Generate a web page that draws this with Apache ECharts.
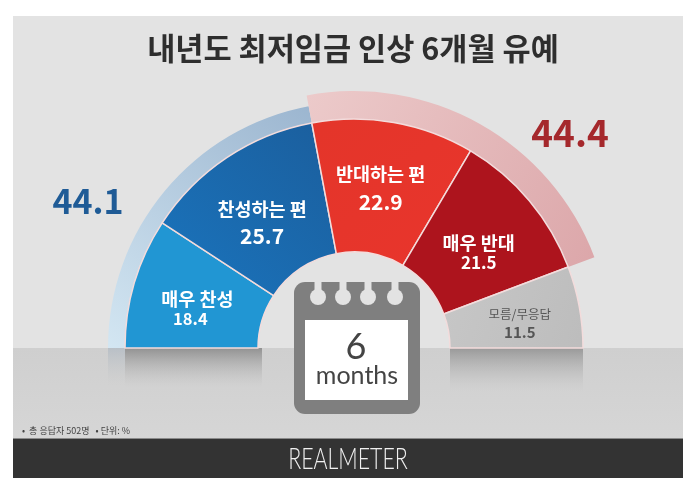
<!DOCTYPE html>
<html>
<head>
<meta charset="utf-8">
<title>내년도 최저임금 인상 6개월 유예</title>
<script src="https://cdn.jsdelivr.net/npm/echarts@6/dist/echarts.min.js"></script>
<style>
html,body{margin:0;padding:0;background:#fff}
#main{width:700px;height:493px}
</style>
</head>
<body>
<div id="main"></div>
<script>
var titleText = '내년도 최저임금 인상 6개월 유예';
var categories = ['매우 찬성', '찬성하는 편', '반대하는 편', '매우 반대', '모름/무응답'];
var values = [18.4, 25.7, 22.9, 21.5, 11.5];
var groupNames = ['찬성', '반대', '모름'];
var groupValues = [44.1, 44.4, 11.5];
var footnote = '•  총 응답자 502명   • 단위: %';

var FONT = '"Noto Sans CJK KR","Noto Sans",sans-serif';
var cx = 354, cy = 348;

function grad(x, y, x2, y2, c1, c2) {
	return { type: 'linear', global: true, x: x, y: y, x2: x2, y2: y2,
		colorStops: [{ offset: 0, color: c1 }, { offset: 1, color: c2 }] };
}

// 조각 색, 글자 크기
var sliceColors = [
	'#2196d3',
	grad(170, 300, 330, 130, '#1a74bd', '#1b5f9e'),
	grad(330, 120, 450, 250, '#e4352a', '#e8352c'),
	'#ad141d',
	grad(450, 300, 580, 340, '#c6c6c6', '#bdbdbd')
];
var nameSizes = [18.5, 18.5, 18.5, 18.5, 12.5];
var valueSizes = [16.5, 21, 21, 17, 15];
var lineHeights = [20, 27, 28, 20, 19];
var labelDx = [2, 0, -2, -2, 3];
var labelDy = [8, 12, 3, 11, 5];
var valuePadRight = [14, 0, 0, 0, 0];
var textColors = ['#fff', '#fff', '#fff', '#fff', '#555'];
var ringColors = [
	grad(108, 348, 300, 100, '#d3e6f2', '#9cb6d0'),
	grad(310, 92, 600, 250, '#eccaca', '#dca7aa'),
	'transparent'
];
var ringOuter = [246, 257];

var pieData = categories.map(function (name, i) {
	return {
		name: name,
		value: values[i],
		itemStyle: { color: sliceColors[i] },
		label: {
			rich: {
				n: { fontSize: nameSizes[i], fontWeight: i == 4 ? 'normal' : 'bold', color: textColors[i], fontFamily: FONT, lineHeight: lineHeights[i] },
				v: { fontSize: valueSizes[i], fontWeight: 'bold', color: textColors[i], fontFamily: FONT, lineHeight: lineHeights[i], padding: [0, valuePadRight[i], 0, 0] }
			}
		}
	};
});

function ringSeries(idx) {
	return {
		type: 'pie', silent: true, z: 1,
		center: [cx, cy],
		radius: [229, ringOuter[idx]],
		startAngle: 180, endAngle: 0,
		label: { show: false }, labelLine: { show: false },
		data: groupNames.map(function (n, i) {
			return { name: n, value: groupValues[i], itemStyle: { color: i == idx ? ringColors[i] : 'transparent' } };
		})
	};
}

var graphics = [
	// 배경
	{ type: 'rect', z: -10, shape: { x: 13, y: 16, width: 670, height: 332 }, style: { fill: '#e3e3e3' } },
	{ type: 'rect', z: -10, shape: { x: 13, y: 348, width: 670, height: 91 }, style: { fill: grad(0, 348, 0, 439, '#cfcfcf', '#d6d6d6') } },
	{ type: 'rect', z: -10, shape: { x: 13, y: 439, width: 670, height: 39 }, style: { fill: '#333333' } },
	{ type: 'rect', z: -9, shape: { x: 13, y: 438, width: 670, height: 1 }, style: { fill: '#8a8a8a' } },
	// 그림자
	{ type: 'rect', z: -8, shape: { x: 108, y: 348, width: 17, height: 38 }, style: { fill: grad(0, 348, 0, 386, 'rgba(175,185,195,0.7)', 'rgba(200,200,200,0)') } },
	{ type: 'rect', z: -8, shape: { x: 125, y: 348, width: 137, height: 40 }, style: { fill: grad(0, 348, 0, 388, 'rgba(125,125,125,0.75)', 'rgba(190,190,190,0)') } },
	{ type: 'rect', z: -8, shape: { x: 450, y: 348, width: 133, height: 44 }, style: { fill: grad(0, 348, 0, 392, 'rgba(130,130,130,0.7)', 'rgba(190,190,190,0)') } },
	// 달력
	{ type: 'rect', z: 5, shape: { x: 294, y: 282, width: 126, height: 132, r: 11 }, style: { fill: '#7f7f7f' } },
	{ type: 'rect', z: 6, shape: { x: 305, y: 320, width: 103, height: 80 }, style: { fill: '#ffffff' } },
	{ type: 'text', z: 7, x: 356, y: 347, style: { text: '6', font: '400 36px Lato,"Open Sans",sans-serif', fill: '#444', align: 'center', verticalAlign: 'middle' } },
	{ type: 'text', z: 7, x: 357, y: 376, style: { text: 'months', font: '400 25px Lato,"Open Sans",sans-serif', fill: '#444', align: 'center', verticalAlign: 'middle' } },
	// 큰 숫자, 각주, 로고
	{ type: 'text', x: 88, y: 201, style: { text: String(groupValues[0]), font: 'bold 34px ' + FONT, fill: '#1f5b96', align: 'center', verticalAlign: 'middle' } },
	{ type: 'text', x: 570, y: 133, style: { text: String(groupValues[1]), font: 'bold 37px ' + FONT, fill: '#a5282c', align: 'center', verticalAlign: 'middle' } },
	{ type: 'text', x: 22, y: 431, style: { text: footnote, font: '9px ' + FONT, fill: '#444', align: 'left', verticalAlign: 'middle' } },
	{ type: 'text', x: 348, y: 459, scaleX: 0.89, scaleY: 1.25, style: { text: 'REALMETER', font: '300 24px Lato,sans-serif', fill: '#f0f0f0', align: 'center', verticalAlign: 'middle' } }
];
[318, 343, 368, 395].forEach(function (x) {
	graphics.push({ type: 'rect', z: 6, shape: { x: x - 3.5, y: 281, width: 7, height: 14 }, style: { fill: '#e3e3e3' } });
	graphics.push({ type: 'circle', z: 6, shape: { cx: x, cy: 297, r: 8 }, style: { fill: '#e3e3e3' } });
});

var myChart = echarts.init(document.getElementById('main'), null, { renderer: 'canvas' });
myChart.setOption({
	animation: false,
	backgroundColor: '#ffffff',
	title: {
		text: titleText, left: 348, top: 28, textAlign: 'center',
		textStyle: { fontFamily: FONT, fontSize: 30.6, fontWeight: 'bold', color: '#2e2e2e' }
	},
	graphic: graphics,
	series: [
		ringSeries(0),
		ringSeries(1),
		{
			type: 'pie', z: 3,
			center: [cx, cy],
			radius: [96, 229],
			startAngle: 180, endAngle: 0,
			itemStyle: { borderColor: '#f3dcdc', borderWidth: 1.5 },
			label: { show: true, position: 'inside', formatter: '{n|{b}}\n{v|{c}}' },
			labelLine: { show: false },
			labelLayout: function (params) {
				return { dx: labelDx[params.dataIndex], dy: labelDy[params.dataIndex] };
			},
			data: pieData
		}
	]
});
</script>
</body>
</html>
